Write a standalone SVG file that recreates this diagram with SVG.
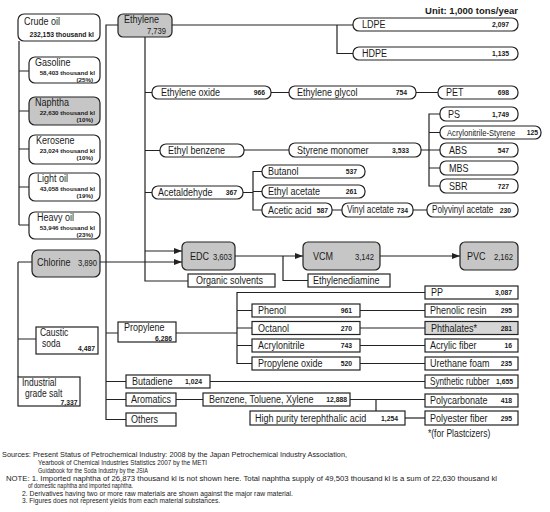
<svg xmlns="http://www.w3.org/2000/svg" width="550" height="512" viewBox="0 0 550 512">
<defs>
<style>
.b{fill:#fff;stroke:#222;stroke-width:1.2}
.g{fill:#c6c6c6;stroke:#222;stroke-width:1.2}
.p{fill:#d6d6d6;stroke:#222;stroke-width:1.2}
text{font-family:"Liberation Sans",Arial,sans-serif;fill:#1a1a1a}
.l{font-size:11px;transform-box:fill-box;transform-origin:0% 50%;transform:scaleX(0.82)}
.ls{font-size:10px;transform-box:fill-box;transform-origin:0% 50%;transform:scaleX(0.82)}
.la{font-size:9.3px;transform-box:fill-box;transform-origin:0% 50%;transform:scaleX(0.82)}
.l2{font-size:10px;transform-box:fill-box;transform-origin:0% 50%;transform:scaleX(0.85)}
.k{font-size:9px;text-anchor:end;transform-box:fill-box;transform-origin:100% 50%;transform:scaleX(0.85)}
.n{font-size:6.8px;font-weight:bold;text-anchor:end}
.q{font-size:6.2px;font-weight:bold;text-anchor:end}
.m{font-size:6.8px;font-weight:bold}
.u{font-size:9.5px;font-weight:bold;text-anchor:end}
.t{font-size:8px}
.f{font-size:10px;transform-box:fill-box;transform-origin:0% 50%;transform:scaleX(0.85)}
#conn path{fill:none;stroke:#222;stroke-width:1.2}
</style>
<marker id="ar" viewBox="0 0 8 6" refX="8" refY="3" markerWidth="8" markerHeight="6" markerUnits="userSpaceOnUse" orient="auto"><path d="M0,0L8,3L0,6z" fill="#222"/></marker>
</defs>
<rect width="550" height="512" fill="#fff"/>
<g id="conn">
<path d="M19,41V225M19,71H29M19,111H29M19,149H29M19,187H29M19,225H29"/>
<path d="M18,262V377M18,262H32M18,339H36"/>
<path d="M118,25H106V419.5H126M106,333H118M106,381.5H126M106,399.5H126"/>
<path d="M100,262H182" marker-end="url(#ar)"/>
<path d="M145,37V281H188M145,92.5H152M145,150.5H160M145,192.5H152"/>
<path d="M145,251H182" marker-end="url(#ar)"/>
<path d="M172,25H353M337,25V53.5H353"/>
<path d="M271,92.5H289M416,92.5H438"/>
<path d="M244,150H289M421,150H440M440,114H429V186H440M429,132.5H440M429,168H440"/>
<path d="M243,192.5H253M262,171.5H253V210H262M253,191.5H262"/>
<path d="M332,210H342M413,210H427"/>
<path d="M235,256H303" marker-end="url(#ar)"/>
<path d="M380,256H460" marker-end="url(#ar)"/>
<path d="M283,256V280.5H308"/>
<path d="M176,333H237M425,292.5H237V363.5H252M237,310.5H252M237,328H252M237,345.5H252"/>
<path d="M360,310.5H425M360,328H425M360,345.5H425M360,363.5H425"/>
<path d="M210,381.5H425"/>
<path d="M176,399.5H203M350,399.5H425M376,399.5V411"/>
<path d="M405,418H425"/>
</g>
<text class="u" x="518" y="14">Unit: 1,000 tons/year</text>
<g id="crude"><rect class="b" x="18" y="14" width="82" height="27" rx="6"/><text class="l" x="24" y="25">Crude oil</text><text class="n" x="94" y="36.5">232,153 thousand kl</text></g>
<g id="gasoline"><rect class="b" x="29" y="57" width="71" height="26" rx="6"/><text class="l" x="35" y="66.5">Gasoline</text><text class="q" x="95" y="74.5">58,403 thousand kl</text><text class="q" x="93" y="81.5">(25%)</text></g>
<g id="naphtha"><rect class="g" x="29" y="97" width="71" height="28" rx="6"/><text class="l" x="35" y="106.5">Naphtha</text><text class="q" x="95" y="114.5">22,630 thousand kl</text><text class="q" x="93" y="121.5">(10%)</text></g>
<g id="kerosene"><rect class="b" x="29" y="135" width="71" height="29" rx="6"/><text class="l" x="36" y="144.5">Kerosene</text><text class="q" x="95" y="152.5">23,024 thousand kl</text><text class="q" x="93" y="159.5">(10%)</text></g>
<g id="lightoil"><rect class="b" x="29" y="173" width="71" height="28" rx="6"/><text class="l" x="37" y="182.5">Light oil</text><text class="q" x="95" y="190.5">43,058 thousand kl</text><text class="q" x="93" y="197.5">(19%)</text></g>
<g id="heavyoil"><rect class="b" x="29" y="212" width="71" height="27" rx="6"/><text class="l" x="37" y="221.5">Heavy oil</text><text class="q" x="95" y="229.5">53,946 thousand kl</text><text class="q" x="93" y="236.5">(23%)</text></g>
<g id="chlorine"><rect class="g" x="32" y="250" width="68" height="27" rx="6"/><text class="l" x="37" y="266">Chlorine</text><text class="k" x="97" y="266">3,890</text></g>
<g id="caustic"><rect class="b" x="36" y="327" width="62" height="27"/><text class="l2" x="40" y="336.5">Caustic</text><text class="l2" x="42" y="347.5">soda</text><text class="n" x="95" y="351">4,487</text></g>
<g id="salt"><rect class="b" x="18" y="377" width="62" height="29"/><text class="l2" x="22" y="386">Industrial</text><text class="l2" x="25" y="397">grade salt</text><text class="n" x="77.5" y="404.5">7,337</text></g>
<g id="ethylene"><rect class="g" x="118" y="14" width="54" height="23" rx="5"/><text class="l" x="124" y="23.5">Ethylene</text><text class="k" x="166" y="34.5">7,739</text></g>
<g id="ldpe"><rect class="b" x="353" y="18" width="165" height="13" rx="6"/><text class="l" x="362" y="28.5">LDPE</text><text class="n" x="509" y="27">2,097</text></g>
<g id="hdpe"><rect class="b" x="353" y="47" width="165" height="13" rx="6"/><text class="l" x="362" y="57.5">HDPE</text><text class="n" x="509" y="56">1,135</text></g>
<g id="eo"><rect class="b" x="152" y="86" width="119" height="13" rx="6"/><text class="l" x="161" y="96.5">Ethylene oxide</text><text class="n" x="265" y="95">966</text></g>
<g id="eg"><rect class="b" x="289" y="86" width="127" height="13" rx="6"/><text class="l" x="297" y="96.5">Ethylene glycol</text><text class="n" x="407" y="95">754</text></g>
<g id="pet"><rect class="b" x="438" y="86" width="80" height="13" rx="6"/><text class="l" x="446" y="96.5">PET</text><text class="n" x="509" y="95">698</text></g>
<g id="ps"><rect class="b" x="440" y="107" width="78" height="14" rx="6"/><text class="l" x="448" y="118">PS</text><text class="n" x="509" y="116.5">1,749</text></g>
<g id="as"><rect class="b" x="440" y="126" width="101" height="13" rx="6"/><text class="la" x="447" y="136">Acrylonitrile-Styrene</text><text class="n" x="538" y="135">125</text></g>
<g id="abs"><rect class="b" x="440" y="143" width="78" height="14" rx="6"/><text class="l" x="449" y="154">ABS</text><text class="n" x="509" y="152.5">547</text></g>
<g id="mbs"><rect class="b" x="440" y="161" width="78" height="14" rx="6"/><text class="l" x="449" y="172">MBS</text></g>
<g id="sbr"><rect class="b" x="440" y="179" width="78" height="14" rx="6"/><text class="l" x="449" y="190">SBR</text><text class="n" x="509" y="188.5">727</text></g>
<g id="sm"><rect class="b" x="289" y="143" width="132" height="14" rx="6"/><text class="l" x="297" y="154">Styrene monomer</text><text class="n" x="409" y="152.5">3,533</text></g>
<g id="eb"><rect class="b" x="160" y="144" width="84" height="13" rx="6"/><text class="l" x="168" y="154.5">Ethyl benzene</text></g>
<g id="acetaldehyde"><rect class="b" x="152" y="186" width="91" height="13" rx="6"/><text class="l" x="158" y="196.5">Acetaldehyde</text><text class="n" x="237" y="195">367</text></g>
<g id="butanol"><rect class="b" x="262" y="165" width="103" height="13" rx="6"/><text class="l" x="268" y="175.5">Butanol</text><text class="n" x="357" y="174">537</text></g>
<g id="ethylacetate"><rect class="b" x="262" y="185" width="103" height="13" rx="6"/><text class="l" x="268" y="195.5">Ethyl acetate</text><text class="n" x="357" y="194">261</text></g>
<g id="aceticacid"><rect class="b" x="262" y="203" width="70" height="14" rx="6"/><text class="l" x="268" y="214">Acetic acid</text><text class="n" x="328" y="212.5">587</text></g>
<g id="vinylacetate"><rect class="b" x="342" y="203" width="71" height="14" rx="6"/><text class="ls" x="347" y="213.5">Vinyl acetate</text><text class="n" x="408" y="212.5">734</text></g>
<g id="pvac"><rect class="b" x="427" y="203" width="91" height="14" rx="6"/><text class="ls" x="432" y="213.5">Polyvinyl acetate</text><text class="n" x="511" y="212.5">230</text></g>
<g id="edc"><rect class="g" x="182" y="242" width="53" height="28" rx="5"/><text class="l" x="190" y="260">EDC</text><text class="k" x="232" y="260">3,603</text></g>
<g id="vcm"><rect class="g" x="303" y="242" width="77" height="28" rx="5"/><text class="l" x="313" y="260">VCM</text><text class="k" x="374" y="260">3,142</text></g>
<g id="pvc"><rect class="g" x="460" y="242" width="58" height="28" rx="5"/><text class="l" x="467" y="260">PVC</text><text class="k" x="513" y="260">2,162</text></g>
<g id="organicsolvents"><rect class="b" x="188" y="274" width="87" height="13"/><text class="l" x="196" y="284.5">Organic solvents</text></g>
<g id="ethylenediamine"><rect class="b" x="308" y="274" width="82" height="13"/><text class="l" x="313" y="284.5">Ethylenediamine</text></g>
<g id="propylene"><rect class="b" x="118" y="322" width="58" height="20"/><text class="l" x="124" y="331">Propylene</text><text class="n" x="172" y="340.5">6,286</text></g>
<g id="pp"><rect class="b" x="425" y="286" width="93" height="13"/><text class="l" x="431" y="296.5">PP</text><text class="n" x="512" y="295">3,087</text></g>
<g id="phenol"><rect class="b" x="252" y="304" width="108" height="13"/><text class="l" x="258" y="314.5">Phenol</text><text class="n" x="352" y="313">961</text></g>
<g id="octanol"><rect class="b" x="252" y="321.5" width="108" height="13"/><text class="l" x="258" y="332">Octanol</text><text class="n" x="352" y="330.5">270</text></g>
<g id="acrylonitrile"><rect class="b" x="252" y="339" width="108" height="13"/><text class="l" x="258" y="349.5">Acrylonitrile</text><text class="n" x="352" y="348">743</text></g>
<g id="propyleneoxide"><rect class="b" x="252" y="357" width="108" height="13"/><text class="l" x="258" y="367.5">Propylene oxide</text><text class="n" x="352" y="366">520</text></g>
<g id="phenolicresin"><rect class="b" x="425" y="304" width="93" height="13"/><text class="l" x="430" y="314.5">Phenolic resin</text><text class="n" x="512" y="313">295</text></g>
<g id="phthalates"><rect class="p" x="425" y="321.5" width="93" height="13"/><text class="l" x="431" y="332">Phthalates*</text><text class="n" x="512" y="330.5">281</text></g>
<g id="acrylicfiber"><rect class="b" x="425" y="339" width="93" height="13"/><text class="l" x="430" y="349.5">Acrylic fiber</text><text class="n" x="512" y="348">16</text></g>
<g id="urethanefoam"><rect class="b" x="425" y="357" width="93" height="13"/><text class="l" x="430" y="367.5">Urethane foam</text><text class="n" x="512" y="366">235</text></g>
<g id="syntheticrubber"><rect class="b" x="425" y="375" width="93" height="13"/><text class="ls" x="430" y="385">Synthetic rubber</text><text class="n" x="513" y="384">1,655</text></g>
<g id="butadiene"><rect class="b" x="126" y="375" width="84" height="13"/><text class="l" x="132" y="385.5">Butadiene</text><text class="m" x="185" y="384">1,024</text></g>
<g id="aromatics"><rect class="b" x="126" y="393" width="50" height="13"/><text class="l" x="131" y="403.5">Aromatics</text></g>
<g id="btx"><rect class="b" x="203" y="393" width="147" height="13"/><text class="l" x="209" y="403.5">Benzene, Toluene, Xylene</text><text class="n" x="347" y="402">12,888</text></g>
<g id="polycarbonate"><rect class="b" x="425" y="394" width="93" height="13"/><text class="l" x="430" y="404.5">Polycarbonate</text><text class="n" x="512" y="403">418</text></g>
<g id="others"><rect class="b" x="126" y="413" width="50" height="13"/><text class="l" x="131" y="423.5">Others</text></g>
<g id="pta"><rect class="b" x="250" y="411" width="155" height="14"/><text class="l" x="255" y="422">High purity terephthalic acid</text><text class="n" x="398" y="420.5">1,254</text></g>
<g id="polyesterfiber"><rect class="b" x="425" y="411" width="93" height="14"/><text class="l" x="430" y="422">Polyester fiber</text><text class="n" x="512" y="420.5">295</text></g>
<text class="f" x="428" y="437">*(for Plastcizers)</text>
<g id="notes">
<text class="t" x="2" y="457" textLength="345" lengthAdjust="spacingAndGlyphs">Sources: Present Status of Petrochemical Industry: 2008 by the Japan Petrochemical Industry Association,</text>
<text class="t" x="38" y="465" textLength="169" lengthAdjust="spacingAndGlyphs">Yearbook of Chemical Industries Statistics 2007 by the METI</text>
<text class="t" x="38" y="473" textLength="110" lengthAdjust="spacingAndGlyphs">Guidabook for the Soda Industry by the JSIA</text>
<text class="t" x="6" y="480.5" textLength="491" lengthAdjust="spacingAndGlyphs">NOTE: 1. Imported naphtha of 26,873 thousand kl is not shown here. Total naphtha supply of 49,503 thousand kl is a sum of 22,630 thousand kl</text>
<text class="t" x="28" y="488" textLength="105" lengthAdjust="spacingAndGlyphs">of domestic naphtha and imported naphtha.</text>
<text class="t" x="22" y="495.5" textLength="271" lengthAdjust="spacingAndGlyphs">2. Derivatives having two or more raw materials are shown against the major raw material.</text>
<text class="t" x="22" y="503" textLength="198" lengthAdjust="spacingAndGlyphs">3. Figures does not represent yields from each material substances.</text>
</g>
</svg>
